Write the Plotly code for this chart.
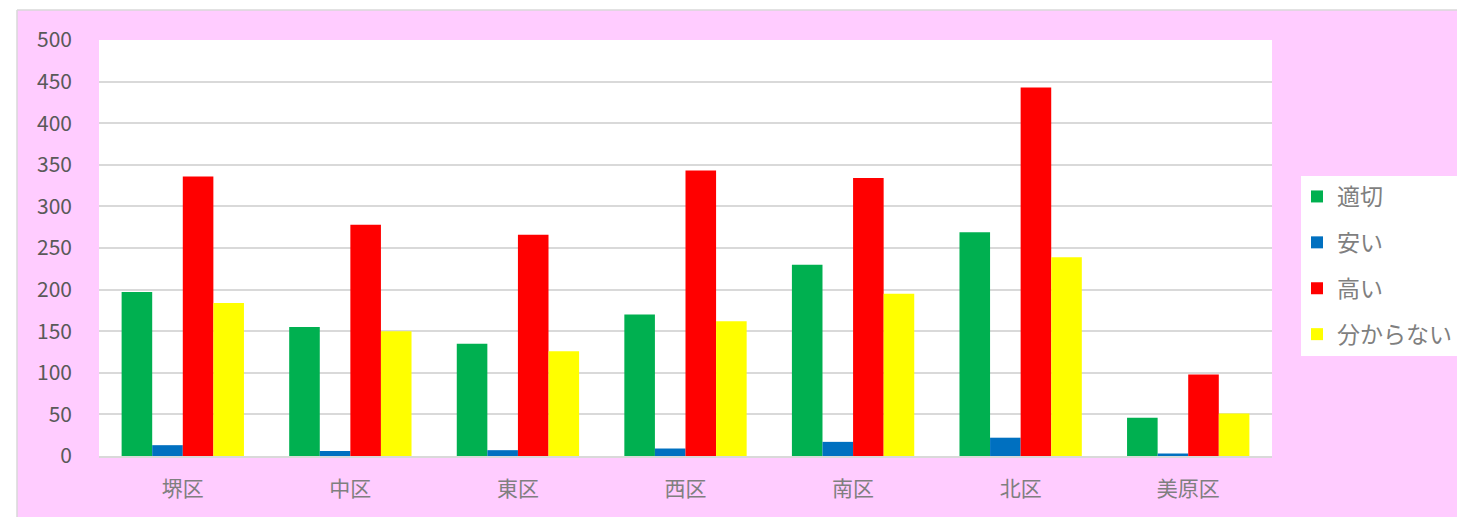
import plotly.graph_objects as go

categories = ["堺区", "中区", "東区", "西区", "南区", "北区", "美原区"]
series_names = ["適切", "安い", "高い", "分からない"]
tekisetsu = [197, 155, 135, 170, 230, 269, 46]
yasui = [13, 6, 7, 9, 17, 22, 3]
takai = [336, 278, 266, 343, 334, 443, 98]
wakaranai = [184, 150, 126, 162, 195, 239, 51]
y_ticks = [0, 50, 100, 150, 200, 250, 300, 350, 400, 450, 500]

colors = ["#00B050", "#0070C0", "#FF0000", "#FFFF00"]
values = [tekisetsu, yasui, takai, wakaranai]

W, H = 1457, 517
L, R, T, B = 99, 1272, 40, 456
pw, ph = R - L, B - T

def px_x(x):  # screen pixel -> paper fraction
    return (x - L) / pw

def px_y(y):
    return (B - y) / ph

font_family = "Noto Sans CJK JP"

fig = go.Figure()
for i, (name, vals, col) in enumerate(zip(series_names, values, colors)):
    fig.add_trace(go.Bar(
        x=categories, y=vals, name=name,
        marker=dict(color=col, line=dict(width=0)),
        legendgroup=f"g{i}",
    ))

pink = "#FFCCFF"
shapes = [
    # white strips outside the chart frame
    dict(type="rect", xref="paper", yref="paper", x0=px_x(0), x1=px_x(17),
         y0=px_y(H), y1=px_y(0), fillcolor="white", line=dict(width=0), layer="above"),
    dict(type="rect", xref="paper", yref="paper", x0=px_x(0), x1=px_x(W),
         y0=px_y(10), y1=px_y(0), fillcolor="white", line=dict(width=0), layer="above"),
    # frame border
    dict(type="line", xref="paper", yref="paper", x0=px_x(17), x1=px_x(17),
         y0=px_y(H), y1=px_y(10), line=dict(color="#D9D9D9", width=1.5), layer="above"),
    dict(type="line", xref="paper", yref="paper", x0=px_x(17), x1=px_x(W),
         y0=px_y(10), y1=px_y(10), line=dict(color="#D9D9D9", width=1.5), layer="above"),
    # legend box
    dict(type="rect", xref="paper", yref="paper", x0=px_x(1301), x1=px_x(W + 5),
         y0=px_y(356), y1=px_y(176), fillcolor="white", line=dict(width=0), layer="below"),
]

fig.update_layout(
    width=W, height=H,
    margin=dict(l=L, r=W - R, t=T, b=H - B, pad=0, autoexpand=False),
    paper_bgcolor=pink,
    plot_bgcolor="white",
    barmode="group",
    bargap=0.27,
    bargroupgap=0,
    font=dict(family=font_family, color="#595959", size=21),
    shapes=shapes,
    legend=dict(
        x=px_x(1297), y=px_y(175), xanchor="left", yanchor="top",
        bgcolor="rgba(0,0,0,0)",
        font=dict(size=23, color="#7F7F7F", family=font_family),
        traceorder="grouped",
        tracegroupgap=13,
        borderwidth=0,
        itemwidth=30,
    ),
    showlegend=True,
)

fig.update_xaxes(
    showgrid=False,
    showline=True, linecolor="#D9D9D9", linewidth=1.5,
    tickfont=dict(size=21, color="#7F7F7F", family=font_family),
    ticks="", ticklabelstandoff=13,
)
fig.update_yaxes(
    range=[0, 500],
    tickvals=y_ticks,
    showgrid=True, gridcolor="#D9D9D9", gridwidth=1.5,
    zeroline=False, showline=False,
    tickfont=dict(size=21, color="#595959", family=font_family),
    ticks="", ticklabelstandoff=26,
)

fig.write_html(
    "out.html",
    config={"displayModeBar": False},
    post_script="document.body.style.margin='0';document.body.style.overflow='hidden';",
)
